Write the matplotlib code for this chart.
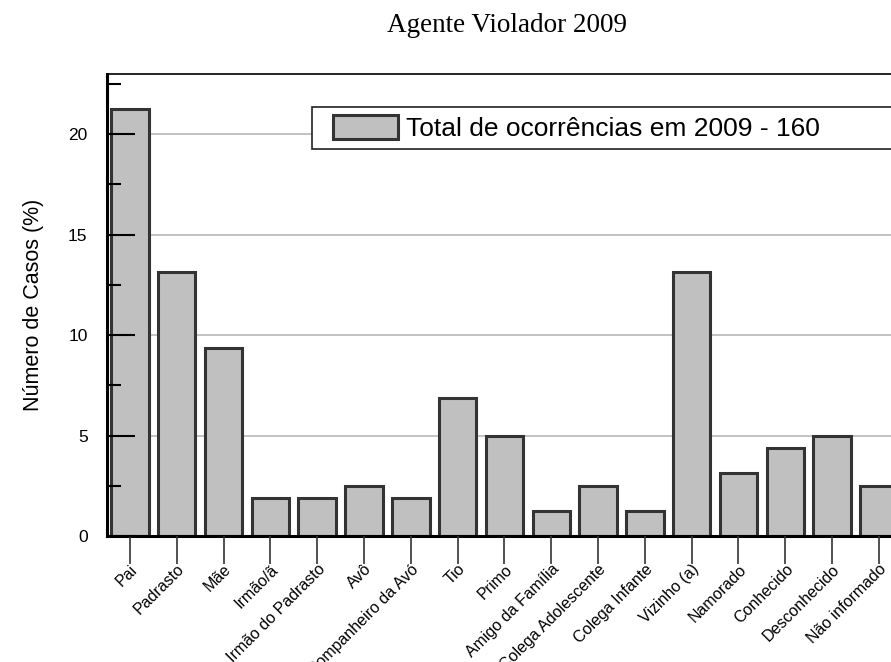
import matplotlib
matplotlib.use("Agg")
import matplotlib.pyplot as plt
from matplotlib.patches import Rectangle
from matplotlib.ticker import MultipleLocator

plt.rcParams['font.family'] = ['Liberation Sans', 'DejaVu Sans']

agentes = ['Pai', 'Padrasto', 'Mãe', 'Irmão/ã', 'Irmão do Padrasto', 'Avô',
           'Companheiro da Avó', 'Tio', 'Primo', 'Amigo da Família',
           'Colega Adolescente', 'Colega Infante', 'Vizinho (a)', 'Namorado',
           'Conhecido', 'Desconhecido', 'Não informado']
casos = [21.25, 13.125, 9.375, 1.875, 1.875, 2.5, 1.875, 6.875, 5.0, 1.25,
         2.5, 1.25, 13.125, 3.125, 4.375, 5.0, 2.5]
rotulo = 'Total de ocorrências em 2009 - 160'

W, H = 891, 662
fig = plt.figure(figsize=(W / 100, H / 100), dpi=100)
# axes runs past the right edge, like the cropped original
ax = fig.add_axes([107 / W, (H - 536) / H, 800 / W, 462 / H])

x = range(len(agentes))
ax.bar(x, casos, width=0.8, color='#c0c0c0', edgecolor='#333333',
       linewidth=2.2, label=rotulo, zorder=2)

ax.set_xlim(-0.49, 16.6)
ax.set_ylim(0, 23)
ax.set_xticks(list(x))
ax.set_xticklabels(agentes, rotation=45, ha='right', va='top',
                   rotation_mode='anchor', fontsize=11.5)
ax.yaxis.set_major_locator(MultipleLocator(5))
ax.yaxis.set_minor_locator(MultipleLocator(2.5))
ax.tick_params(axis='y', direction='in', length=20, width=1.5, labelsize=12.5,
               pad=14)
ax.tick_params(axis='y', which='minor', direction='in', length=10, width=1.5)
ax.tick_params(axis='x', direction='out', length=20, width=1.2,
               color='#333333', pad=-1.5)

# grid behind the bars, ticks on top of them
for g in [5, 10, 15, 20]:
    ax.axhline(g, color='#bdbdbd', linewidth=1.3, zorder=0.5)
ax.set_axisbelow(False)

ax.spines['left'].set_linewidth(2.2)
ax.spines['bottom'].set_linewidth(2.2)
ax.spines['top'].set_linewidth(1.2)
ax.spines['right'].set_visible(False)

ax.set_ylabel('Número de Casos (%)', fontsize=15.5, labelpad=17)

fig.text(507 / W, 1 - 26 / H, 'Agente Violador 2009', ha='center',
         va='center', fontsize=19.5, family='Liberation Serif')

# legend frame drawn by hand so it can run off the right edge
ax.add_patch(Rectangle((312 / W, 1 - 149 / H), 600 / W, 42 / H,
                       transform=fig.transFigure, facecolor='white',
                       edgecolor='#222222', linewidth=1.2, zorder=4,
                       clip_on=False))
leg = ax.legend(loc='center left', bbox_to_anchor=(333 / W, 1 - 128 / H),
                bbox_transform=fig.transFigure, fontsize=19, frameon=False,
                handlelength=2.45, handleheight=1.0, handletextpad=0.3,
                borderpad=0, borderaxespad=0)
leg.set_zorder(5)

fig.savefig('out.png', dpi=100)
